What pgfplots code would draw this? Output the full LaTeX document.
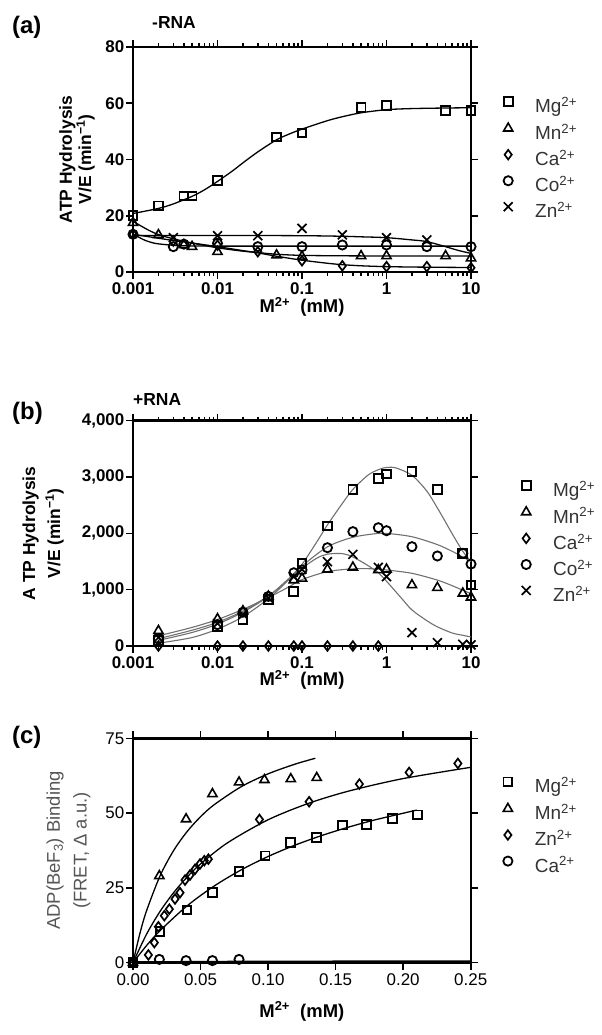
\documentclass[border=0pt]{standalone}
\usepackage{pgfplots}
\pgfplotsset{compat=1.18}
\usepackage{fontspec}
\setmainfont{Liberation Sans}
\definecolor{fitgray}{HTML}{707070}
\definecolor{labgray}{HTML}{555555}
\definecolor{legtext}{HTML}{333333}
\newcommand{\ssup}[1]{\textsuperscript{#1}}
\pgfplotsset{
  panel/.style={
    scale only axis, width=338bp, height=225bp,
    axis line style={line width=2.4bp},
    every tick/.style={line width=1.6bp, black},
    major tick length=7bp, minor tick length=4bp,
    tick align=outside, tick pos=both,
    /pgf/number format/assume math mode=true,
    ticklabel style={font=\fontsize{17}{17}\selectfont\bfseries, inner sep=1.5bp},
    xticklabel style={yshift=-2bp},
    xlabel style={font=\fontsize{18.5}{18.5}\selectfont\bfseries, anchor=center},
    ylabel style={anchor=center, align=center},
    legend style={draw=none, fill=none, at={(1,1)}, anchor=north west,
      font=\fontsize{19}{19}\selectfont, text=legtext, row sep=6.5bp,
      nodes={inner sep=0pt, text height=14bp, text depth=4bp}},
    legend cell align=left,
    legend image code/.code={\path[draw=none,fill=none] (-6bp,0bp) -- (27bp,0bp); \draw[##1] plot coordinates {(0bp,6bp)};},
  },
  mgs/.style={black, only marks, mark=square, mark size=4.4bp, mark options={line width=1.9bp, solid}},
  mns/.style={black, only marks, mark=triangle, mark size=5.3bp, mark options={line width=1.6bp, solid}},
  cas/.style={black, only marks, mark=diamond, mark size=4.8bp, mark options={line width=1.7bp, solid}},
  cos/.style={black, only marks, mark=o, mark size=4.6bp, mark options={line width=1.8bp, solid}},
  zns/.style={black, only marks, mark=x, mark size=6.3bp, mark options={line width=1.7bp, solid}},
  fit/.style={black, line width=1.3bp, no marks, smooth, forget plot},
  gfit/.style={fitgray, line width=1.1bp, no marks, smooth, forget plot},
}
\begin{document}
\begin{tikzpicture}[x=1bp,y=1bp]
\useasboundingbox (0,0) rectangle (602,1035);

% ---------------- panel (a)
\begin{axis}[panel, at={(133bp,763bp)}, anchor=south west,
  xmode=log, xmin=0.001, xmax=10,
  xtick={0.001,0.01,0.1,1,10}, xticklabels={0.001,0.01,0.1,1,10},
  ymin=0, ymax=80, ytick={0,20,40,60,80}, yticklabels={0,20,40,60,80},
  xlabel={M\ssup{2+}\ \ (mM)},
  xlabel style={at={(axis description cs:0.5,-0.155)}},
  ylabel={ATP Hydrolysis\\V/E (min\ssup{−1})},
  ylabel style={at={(axis description cs:-0.166,0.5)}, font=\fontsize{17.5}{15}\selectfont\bfseries},
  legend style={xshift=28bp, yshift=-48bp},
]
\addplot[fit] coordinates {(0.001,20.8)(0.002,22.6)(0.003,24.2)(0.005,26.9)(0.007,29.2)(0.01,32.2)(0.015,35.9)(0.02,38.8)(0.03,42.7)(0.05,47.0)(0.07,49.0)(0.1,50.8)(0.2,53.8)(0.3,55.2)(0.5,56.6)(1,57.7)(2,58.1)(5,58.3)(10,58.4)};
\addplot[fit] coordinates {(0.001,18.0)(0.0015,15.0)(0.002,13.3)(0.003,11.8)(0.005,10.3)(0.01,8.6)(0.02,7.4)(0.03,6.9)(0.05,6.3)(0.1,5.9)(0.3,5.75)(1,5.7)(10,5.7)};
\addplot[fit] coordinates {(0.001,13.4)(0.002,12.0)(0.003,11.2)(0.005,10.3)(0.01,9.0)(0.02,7.6)(0.03,6.8)(0.05,5.6)(0.1,4.2)(0.2,3.1)(0.3,2.6)(0.5,2.2)(1,1.9)(3,1.7)(10,1.6)};
\addplot[fit] coordinates {(0.001,13.4)(0.0012,12.2)(0.0014,11.2)(0.0017,10.4)(0.002,10.0)(0.003,9.5)(0.005,9.25)(0.01,9.2)(0.1,9.2)(10,9.2)};
\addplot[fit] coordinates {(0.001,13.0)(0.01,13.0)(0.1,12.9)(0.3,12.7)(0.5,12.5)(1,12.2)(2,11.4)(3,10.8)(5,9.0)(7,7.7)(10,6.6)};
\addplot[mgs] coordinates {(0.001,20)(0.002,23.5)(0.004,27)(0.005,27)(0.01,32.5)(0.05,48)(0.1,49.4)(0.5,58.6)(1,59.3)(5,57.3)(10,57.3)};
\addlegendentry{Mg\ssup{2+}}
\addplot[mns] coordinates {(0.001,17.5)(0.002,13.2)(0.004,9.6)(0.005,9.0)(0.01,7.2)(0.05,6.0)(0.1,5.5)(0.5,5.7)(1,5.7)(5,5.7)(10,4.9)};
\addlegendentry{Mn\ssup{2+}}
\addplot[cas] coordinates {(0.001,13.4)(0.003,11)(0.01,9.5)(0.03,7.2)(0.1,4.0)(0.3,2.2)(1,1.9)(3,1.9)(10,1.5)};
\addlegendentry{Ca\ssup{2+}}
\addplot[cos] coordinates {(0.001,13.4)(0.003,9.0)(0.004,9.9)(0.01,10.2)(0.03,9.0)(0.1,9.0)(0.3,9.6)(1,9.6)(3,9.0)(10,9.0)};
\addlegendentry{Co\ssup{2+}}
\addplot[zns] coordinates {(0.003,12.2)(0.01,12.9)(0.03,12.9)(0.1,15.5)(0.3,13.2)(1,12.2)(3,11.4)};
\addlegendentry{Zn\ssup{2+}}
\end{axis}

% ---------------- panel (b)
\begin{axis}[panel, at={(133bp,389bp)}, anchor=south west, height=225.3bp,
  xmode=log, xmin=0.001, xmax=10,
  xtick={0.001,0.01,0.1,1,10}, xticklabels={0.001,0.01,0.1,1,10},
  ymin=0, ymax=4000, ytick={0,1000,2000,3000,4000}, yticklabels={0,{1,000},{2,000},{3,000},{4,000}},
  xlabel={M\ssup{2+}\ \ (mM)},
  xlabel style={at={(axis description cs:0.5,-0.15)}},
  ylabel={A TP Hydrolysis\\V/E (min\ssup{−1})},
  ylabel style={at={(axis description cs:-0.266,0.5)}, font=\fontsize{17.5}{25}\selectfont\bfseries},
  legend style={xshift=46bp, yshift=-58bp},
]
\addplot[gfit] coordinates {(0.002,50)(0.005,150)(0.01,300)(0.02,520)(0.04,840)(0.07,1180)(0.1,1450)(0.15,1850)(0.2,2150)(0.3,2530)(0.4,2780)(0.6,3030)(0.8,3130)(1,3170)(1.3,3160)(2,3030)(3,2750)(4,2450)(5,2200)(6,1990)(8,1680)(10,1500)};
\addplot[gfit] coordinates {(0.002,180)(0.005,330)(0.01,470)(0.02,650)(0.04,860)(0.07,1050)(0.1,1180)(0.2,1320)(0.4,1370)(0.7,1370)(1,1350)(2,1290)(4,1170)(6,1070)(8,990)(10,930)};
\addplot[gfit] coordinates {(0.002,100)(0.005,240)(0.01,390)(0.02,600)(0.04,880)(0.07,1200)(0.1,1420)(0.2,1760)(0.4,1930)(0.8,2000)(1,2000)(2,1940)(4,1800)(6,1680)(8,1580)(10,1500)};
\addplot[gfit] coordinates {(0.002,130)(0.005,280)(0.01,420)(0.02,620)(0.04,890)(0.07,1180)(0.1,1380)(0.15,1560)(0.2,1630)(0.3,1640)(0.4,1580)(0.6,1430)(0.8,1300)(1,1150)(1.5,850)(2,640)(3,450)(4,340)(6,230)(8,190)(10,160)};
\addplot[mgs] coordinates {(0.002,100)(0.01,350)(0.02,470)(0.04,830)(0.08,964)(0.1,1467)(0.2,2130)(0.4,2781)(0.8,2976)(1,3053)(2,3094)(4,2781)(8,1645)(10,1083)};
\addlegendentry{Mg\ssup{2+}}
\addplot[mns] coordinates {(0.002,270)(0.01,480)(0.02,620)(0.04,880)(0.08,1170)(0.1,1200)(0.2,1361)(0.4,1396)(0.8,1349)(1,1361)(2,1083)(4,1035)(8,935)(10,864)};
\addlegendentry{Mn\ssup{2+}}
\addplot[cas] coordinates {(0.002,0)(0.01,0)(0.02,0)(0.04,0)(0.08,0)(0.1,0)(0.2,0)(0.4,0)(0.8,0)};
\addlegendentry{Ca\ssup{2+}}
\addplot[cos] coordinates {(0.002,130)(0.01,380)(0.02,600)(0.04,880)(0.08,1300)(0.1,1350)(0.2,1745)(0.4,2030)(0.8,2100)(1,2047)(2,1763)(4,1598)(8,1645)(10,1455)};
\addlegendentry{Co\ssup{2+}}
\addplot[zns] coordinates {(0.002,150)(0.01,400)(0.02,560)(0.04,850)(0.08,1230)(0.1,1361)(0.2,1497)(0.4,1627)(0.8,1396)(1,1231)(2,237)(4,59)(8,30)(10,20)};
\addlegendentry{Zn\ssup{2+}}
\end{axis}

% ---------------- panel (c)
\begin{axis}[panel, at={(133bp,72.3bp)}, anchor=south west, width=337.7bp, height=224.4bp,
  xmin=0, xmax=0.25, xtick={0,0.05,0.1,0.15,0.2,0.25}, xticklabels={0.00,0.05,0.10,0.15,0.20,0.25},
  ymin=0, ymax=75, ytick={0,25,50,75}, yticklabels={0,25,50,75},
  ticklabel style={font=\fontsize{17}{17}\selectfont\mdseries},
  xlabel={M\ssup{2+}\ \ (mM)},
  xlabel style={at={(axis description cs:0.5,-0.2175)}},
  ylabel={ADP(BeF\textsubscript{3}) Binding\\(FRET, Δ a.u.)},
  ylabel style={at={(axis description cs:-0.191,0.5)}, font=\fontsize{18.5}{27}\selectfont, text=labgray},
  legend style={xshift=28bp, yshift=-37bp},
]
\addplot[fit] coordinates {(0,0)(0.01,5.71)(0.02,10.69)(0.04,18.98)(0.06,25.6)(0.08,31.0)(0.1,35.5)(0.12,39.3)(0.14,42.55)(0.16,45.37)(0.18,47.83)(0.21,51.0)};
\addplot[fit] coordinates {(0,0)(0.005,9.58)(0.01,17.31)(0.02,29.0)(0.03,37.44)(0.04,43.8)(0.05,48.78)(0.06,52.77)(0.08,58.8)(0.1,63.12)(0.12,66.37)(0.135,68.33)};
\addplot[fit] coordinates {(0,0)(0.01,9.5)(0.02,17.12)(0.03,23.37)(0.04,28.58)(0.05,33.0)(0.07,40.08)(0.1,47.77)(0.13,53.27)(0.16,57.4)(0.2,61.54)(0.25,65.3)};
\addplot[fit] coordinates {(0,0)(0.05,0.4)(0.25,0.6)};
\addplot[mgs] coordinates {(0,0)(0.02,10.4)(0.04,17.6)(0.0588,23.4)(0.0785,30.4)(0.0978,35.7)(0.1168,40.1)(0.136,41.8)(0.155,46.0)(0.173,46.2)(0.192,48.3)(0.2106,49.4)};
\addlegendentry{Mg\ssup{2+}}
\addplot[mns] coordinates {(0,0)(0.0195,29.0)(0.0393,48.0)(0.0588,56.4)(0.0785,60.3)(0.0973,61.1)(0.1168,61.4)(0.136,61.8)};
\addlegendentry{Mn\ssup{2+}}
\addplot[cas] coordinates {(0,0)(0.0114,2.6)(0.0158,6.7)(0.0188,12.0)(0.0232,15.7)(0.0269,17.9)(0.0311,21.3)(0.0348,23.4)(0.0385,27.6)(0.0422,29.3)(0.0459,31.2)(0.0496,33.0)(0.0528,34.1)(0.0558,34.6)(0.0936,47.9)(0.1304,53.8)(0.1676,59.7)(0.2044,63.6)(0.2405,66.6)};
\addlegendentry{Zn\ssup{2+}}
\addplot[cos] coordinates {(0,0)(0.0195,1.1)(0.0393,0.7)(0.0588,0.7)(0.0785,1.1)};
\addlegendentry{Ca\ssup{2+}}
\end{axis}

% panel titles
\node[anchor=west, font=\fontsize{24}{24}\selectfont\bfseries, inner sep=0pt] at (12,1007.5) {(a)};
\node[anchor=west, font=\fontsize{17.5}{17.5}\selectfont\bfseries, inner sep=0pt] at (152,1012) {-RNA};
\node[anchor=west, font=\fontsize{24}{24}\selectfont\bfseries, inner sep=0pt] at (12,621.5) {(b)};
\node[anchor=west, font=\fontsize{17.5}{17.5}\selectfont\bfseries, inner sep=0pt] at (133,635) {+RNA};
\node[anchor=west, font=\fontsize{24}{24}\selectfont\bfseries, inner sep=0pt] at (12,298) {(c)};
\end{tikzpicture}
\end{document}
